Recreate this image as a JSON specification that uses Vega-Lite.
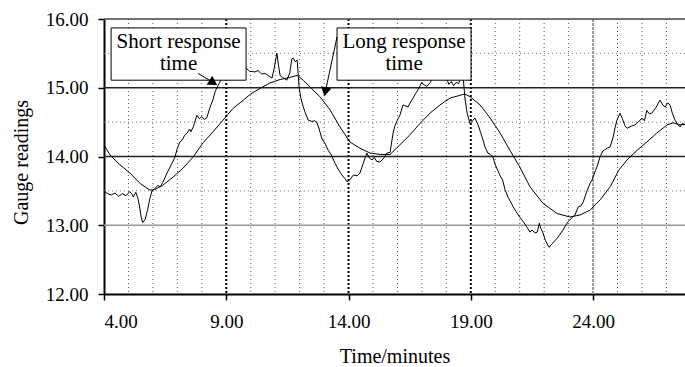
{
  "$schema": "https://vega.github.io/schema/vega-lite/v6.json",
  "width": 581,
  "height": 275,
  "autosize": {"type": "none"},
  "padding": {"left": 104, "top": 19, "right": 0, "bottom": 73},
  "background": "white",
  "config": {
    "font": "Liberation Serif",
    "view": {"stroke": null},
    "axis": {
      "grid": false,
      "labelFont": "Liberation Serif",
      "labelFontSize": 19,
      "labelColor": "black",
      "titleFont": "Liberation Serif",
      "titleFontSize": 20,
      "titleFontWeight": "normal",
      "titleColor": "black",
      "domainColor": "black",
      "domainWidth": 2,
      "tickColor": "black",
      "tickWidth": 1.5,
      "tickSize": 6
    }
  },
  "datasets": {
    "vminor": [{"t":5},{"t":6},{"t":7},{"t":8},{"t":10},{"t":11},{"t":12},{"t":13},{"t":15},{"t":16},{"t":17},{"t":18},{"t":20},{"t":21},{"t":22},{"t":23},{"t":25},{"t":26},{"t":27}],
    "vmajor": [{"t":9},{"t":14},{"t":19}],
    "vmajor2": [{"t":24}],
    "hminor": [{"v":13.5},{"v":14.5},{"v":15.5}],
    "hblack": [{"v":14},{"v":15}],
    "hgray": [{"v":13}],
    "htop": [{"v":16}],
    "boxes": [
      {"t":4.29,"t2":9.81,"v":15.11,"v2":15.87,"tc":7.05,"vc":15.665,"label":"Short response\ntime"},
      {"t":13.53,"t2":19.01,"v":15.11,"v2":15.87,"tc":16.27,"vc":15.665,"label":"Long response\ntime"}
    ],
    "arrow1": [{"t":7.84,"v":15.21,"t2":8.5,"v2":15.07}],
    "arrow1head": [{"t":8.47,"v":15.075}],
    "arrow2": [{"t":13.53,"v":15.74,"t2":13.08,"v2":14.99}],
    "arrow2head": [{"t":13.05,"v":14.94}],
    "series": [
      {"s":"short","t":4.0,"v":13.5},{"s":"short","t":4.15,"v":13.46},{"s":"short","t":4.3,"v":13.44},{"s":"short","t":4.45,"v":13.47},{"s":"short","t":4.6,"v":13.42},{"s":"short","t":4.75,"v":13.46},{"s":"short","t":4.9,"v":13.43},{"s":"short","t":5.05,"v":13.49},{"s":"short","t":5.15,"v":13.45},{"s":"short","t":5.2,"v":13.41},{"s":"short","t":5.3,"v":13.48},{"s":"short","t":5.38,"v":13.4},{"s":"short","t":5.45,"v":13.28},{"s":"short","t":5.52,"v":13.12},{"s":"short","t":5.58,"v":13.04},{"s":"short","t":5.68,"v":13.08},{"s":"short","t":5.78,"v":13.22},{"s":"short","t":5.87,"v":13.38},{"s":"short","t":5.96,"v":13.5},{"s":"short","t":6.05,"v":13.52},{"s":"short","t":6.2,"v":13.58},{"s":"short","t":6.3,"v":13.56},{"s":"short","t":6.4,"v":13.62},{"s":"short","t":6.58,"v":13.76},{"s":"short","t":6.75,"v":13.88},{"s":"short","t":6.9,"v":13.99},{"s":"short","t":7.0,"v":14.12},{"s":"short","t":7.1,"v":14.21},{"s":"short","t":7.2,"v":14.24},{"s":"short","t":7.3,"v":14.31},{"s":"short","t":7.4,"v":14.34},{"s":"short","t":7.5,"v":14.4},{"s":"short","t":7.55,"v":14.36},{"s":"short","t":7.65,"v":14.43},{"s":"short","t":7.8,"v":14.6},{"s":"short","t":7.9,"v":14.55},{"s":"short","t":8.0,"v":14.58},{"s":"short","t":8.1,"v":14.54},{"s":"short","t":8.2,"v":14.56},{"s":"short","t":8.34,"v":14.72},{"s":"short","t":8.45,"v":14.82},{"s":"short","t":8.54,"v":14.94},{"s":"short","t":8.67,"v":15.04},{"s":"short","t":8.8,"v":15.12},{"s":"short","t":9.0,"v":15.2},{"s":"short","t":9.3,"v":15.25},{"s":"short","t":9.6,"v":15.27},{"s":"short","t":9.8,"v":15.29},{"s":"short","t":9.95,"v":15.24},{"s":"short","t":10.17,"v":15.23},{"s":"short","t":10.3,"v":15.25},{"s":"short","t":10.45,"v":15.2},{"s":"short","t":10.58,"v":15.21},{"s":"short","t":10.75,"v":15.17},{"s":"short","t":10.87,"v":15.14},{"s":"short","t":10.97,"v":15.3},{"s":"short","t":11.07,"v":15.5},{"s":"short","t":11.14,"v":15.32},{"s":"short","t":11.2,"v":15.18},{"s":"short","t":11.3,"v":15.15},{"s":"short","t":11.48,"v":15.11},{"s":"short","t":11.6,"v":15.22},{"s":"short","t":11.68,"v":15.42},{"s":"short","t":11.74,"v":15.43},{"s":"short","t":11.82,"v":15.38},{"s":"short","t":11.9,"v":15.4},{"s":"short","t":11.98,"v":15.0},{"s":"short","t":12.05,"v":14.85},{"s":"short","t":12.15,"v":14.72},{"s":"short","t":12.25,"v":14.62},{"s":"short","t":12.35,"v":14.53},{"s":"short","t":12.5,"v":14.51},{"s":"short","t":12.6,"v":14.52},{"s":"short","t":12.7,"v":14.5},{"s":"short","t":12.8,"v":14.4},{"s":"short","t":12.9,"v":14.27},{"s":"short","t":13.05,"v":14.18},{"s":"short","t":13.17,"v":14.09},{"s":"short","t":13.3,"v":14.02},{"s":"short","t":13.45,"v":13.9},{"s":"short","t":13.6,"v":13.8},{"s":"short","t":13.73,"v":13.73},{"s":"short","t":13.85,"v":13.68},{"s":"short","t":13.94,"v":13.63},{"s":"short","t":14.05,"v":13.66},{"s":"short","t":14.2,"v":13.73},{"s":"short","t":14.35,"v":13.72},{"s":"short","t":14.47,"v":13.76},{"s":"short","t":14.6,"v":13.9},{"s":"short","t":14.75,"v":14.05},{"s":"short","t":14.85,"v":13.98},{"s":"short","t":14.96,"v":13.95},{"s":"short","t":15.05,"v":13.99},{"s":"short","t":15.15,"v":13.93},{"s":"short","t":15.29,"v":13.92},{"s":"short","t":15.45,"v":13.98},{"s":"short","t":15.57,"v":14.05},{"s":"short","t":15.7,"v":14.06},{"s":"short","t":15.82,"v":14.34},{"s":"short","t":15.9,"v":14.45},{"s":"short","t":16.0,"v":14.53},{"s":"short","t":16.1,"v":14.6},{"s":"short","t":16.23,"v":14.75},{"s":"short","t":16.3,"v":14.74},{"s":"short","t":16.43,"v":14.72},{"s":"short","t":16.55,"v":14.8},{"s":"short","t":16.64,"v":14.85},{"s":"short","t":16.75,"v":14.92},{"s":"short","t":16.84,"v":14.97},{"s":"short","t":17.0,"v":15.08},{"s":"short","t":17.05,"v":15.05},{"s":"short","t":17.2,"v":15.02},{"s":"short","t":17.35,"v":15.08},{"s":"short","t":17.5,"v":15.2},{"s":"short","t":17.8,"v":15.22},{"s":"short","t":18.0,"v":15.15},{"s":"short","t":18.1,"v":15.05},{"s":"short","t":18.2,"v":15.09},{"s":"short","t":18.3,"v":15.03},{"s":"short","t":18.4,"v":15.08},{"s":"short","t":18.5,"v":15.06},{"s":"short","t":18.6,"v":15.15},{"s":"short","t":18.7,"v":15.1},{"s":"short","t":18.76,"v":14.85},{"s":"short","t":18.85,"v":14.63},{"s":"short","t":18.97,"v":14.48},{"s":"short","t":19.07,"v":14.52},{"s":"short","t":19.17,"v":14.56},{"s":"short","t":19.3,"v":14.46},{"s":"short","t":19.4,"v":14.35},{"s":"short","t":19.5,"v":14.24},{"s":"short","t":19.6,"v":14.12},{"s":"short","t":19.7,"v":14.05},{"s":"short","t":19.8,"v":14.03},{"s":"short","t":19.9,"v":14.0},{"s":"short","t":20.0,"v":13.88},{"s":"short","t":20.1,"v":13.8},{"s":"short","t":20.2,"v":13.72},{"s":"short","t":20.3,"v":13.66},{"s":"short","t":20.4,"v":13.52},{"s":"short","t":20.52,"v":13.41},{"s":"short","t":20.63,"v":13.34},{"s":"short","t":20.73,"v":13.27},{"s":"short","t":20.85,"v":13.2},{"s":"short","t":21.0,"v":13.12},{"s":"short","t":21.15,"v":13.05},{"s":"short","t":21.3,"v":12.97},{"s":"short","t":21.42,"v":12.9},{"s":"short","t":21.5,"v":12.93},{"s":"short","t":21.63,"v":12.89},{"s":"short","t":21.72,"v":12.9},{"s":"short","t":21.8,"v":13.03},{"s":"short","t":21.87,"v":12.95},{"s":"short","t":21.95,"v":12.89},{"s":"short","t":22.05,"v":12.78},{"s":"short","t":22.2,"v":12.68},{"s":"short","t":22.3,"v":12.72},{"s":"short","t":22.4,"v":12.76},{"s":"short","t":22.53,"v":12.81},{"s":"short","t":22.65,"v":12.87},{"s":"short","t":22.77,"v":12.93},{"s":"short","t":22.88,"v":13.0},{"s":"short","t":22.98,"v":13.05},{"s":"short","t":23.1,"v":13.1},{"s":"short","t":23.26,"v":13.15},{"s":"short","t":23.4,"v":13.27},{"s":"short","t":23.5,"v":13.28},{"s":"short","t":23.6,"v":13.34},{"s":"short","t":23.75,"v":13.5},{"s":"short","t":23.88,"v":13.61},{"s":"short","t":23.96,"v":13.66},{"s":"short","t":24.1,"v":13.8},{"s":"short","t":24.16,"v":13.85},{"s":"short","t":24.29,"v":14.0},{"s":"short","t":24.4,"v":14.08},{"s":"short","t":24.57,"v":14.12},{"s":"short","t":24.7,"v":14.14},{"s":"short","t":24.82,"v":14.28},{"s":"short","t":24.9,"v":14.42},{"s":"short","t":24.98,"v":14.53},{"s":"short","t":25.1,"v":14.63},{"s":"short","t":25.2,"v":14.55},{"s":"short","t":25.3,"v":14.45},{"s":"short","t":25.39,"v":14.41},{"s":"short","t":25.55,"v":14.44},{"s":"short","t":25.72,"v":14.46},{"s":"short","t":25.85,"v":14.5},{"s":"short","t":26.0,"v":14.56},{"s":"short","t":26.1,"v":14.52},{"s":"short","t":26.2,"v":14.67},{"s":"short","t":26.3,"v":14.62},{"s":"short","t":26.4,"v":14.63},{"s":"short","t":26.55,"v":14.7},{"s":"short","t":26.74,"v":14.82},{"s":"short","t":26.85,"v":14.75},{"s":"short","t":26.95,"v":14.72},{"s":"short","t":27.05,"v":14.78},{"s":"short","t":27.15,"v":14.75},{"s":"short","t":27.25,"v":14.62},{"s":"short","t":27.35,"v":14.53},{"s":"short","t":27.45,"v":14.47},{"s":"short","t":27.56,"v":14.43},{"s":"short","t":27.65,"v":14.48},{"s":"short","t":27.76,"v":14.46},
      {"s":"long","t":4.0,"v":14.17},{"s":"long","t":4.25,"v":14.02},{"s":"long","t":4.65,"v":13.88},{"s":"long","t":5.06,"v":13.76},{"s":"long","t":5.47,"v":13.61},{"s":"long","t":5.88,"v":13.51},{"s":"long","t":6.08,"v":13.52},{"s":"long","t":6.4,"v":13.58},{"s":"long","t":6.82,"v":13.7},{"s":"long","t":7.23,"v":13.83},{"s":"long","t":7.64,"v":13.99},{"s":"long","t":8.05,"v":14.2},{"s":"long","t":8.46,"v":14.36},{"s":"long","t":8.87,"v":14.53},{"s":"long","t":9.28,"v":14.7},{"s":"long","t":9.7,"v":14.82},{"s":"long","t":10.0,"v":14.91},{"s":"long","t":10.38,"v":14.99},{"s":"long","t":10.79,"v":15.07},{"s":"long","t":11.2,"v":15.12},{"s":"long","t":11.6,"v":15.15},{"s":"long","t":11.9,"v":15.18},{"s":"long","t":12.15,"v":15.11},{"s":"long","t":12.43,"v":15.01},{"s":"long","t":12.83,"v":14.87},{"s":"long","t":13.24,"v":14.68},{"s":"long","t":13.65,"v":14.43},{"s":"long","t":14.06,"v":14.21},{"s":"long","t":14.47,"v":14.12},{"s":"long","t":14.88,"v":14.05},{"s":"long","t":15.29,"v":14.03},{"s":"long","t":15.7,"v":14.03},{"s":"long","t":16.1,"v":14.17},{"s":"long","t":16.5,"v":14.31},{"s":"long","t":16.92,"v":14.48},{"s":"long","t":17.33,"v":14.63},{"s":"long","t":17.74,"v":14.75},{"s":"long","t":18.15,"v":14.85},{"s":"long","t":18.56,"v":14.89},{"s":"long","t":18.75,"v":14.91},{"s":"long","t":18.97,"v":14.87},{"s":"long","t":19.38,"v":14.75},{"s":"long","t":19.79,"v":14.56},{"s":"long","t":20.2,"v":14.34},{"s":"long","t":20.6,"v":14.09},{"s":"long","t":21.0,"v":13.85},{"s":"long","t":21.42,"v":13.56},{"s":"long","t":21.95,"v":13.32},{"s":"long","t":22.53,"v":13.17},{"s":"long","t":23.06,"v":13.12},{"s":"long","t":23.47,"v":13.15},{"s":"long","t":23.88,"v":13.22},{"s":"long","t":24.29,"v":13.37},{"s":"long","t":24.7,"v":13.56},{"s":"long","t":25.05,"v":13.8},{"s":"long","t":25.39,"v":13.95},{"s":"long","t":25.8,"v":14.09},{"s":"long","t":26.2,"v":14.21},{"s":"long","t":26.6,"v":14.34},{"s":"long","t":27.03,"v":14.46},{"s":"long","t":27.27,"v":14.49},{"s":"long","t":27.56,"v":14.46},{"s":"long","t":27.76,"v":14.47}
    ]
  },
  "layer": [
    {
      "data": {"name": "vminor"},
      "mark": {"type": "rule", "stroke": "#555", "strokeWidth": 1, "strokeDash": [1, 3]},
      "encoding": {
        "x": {"field": "t", "type": "quantitative",
              "scale": {"domain": [4, 27.76], "nice": false, "zero": false},
              "axis": {"values": [4, 9, 14, 19, 24], "format": ".2f", "title": "Time/minutes", "labelPadding": 12, "titlePadding": 15}}
      }
    },
    {
      "data": {"name": "hminor"},
      "mark": {"type": "rule", "stroke": "#777", "strokeWidth": 1, "strokeDash": [1, 3]},
      "encoding": {
        "y": {"field": "v", "type": "quantitative",
              "scale": {"domain": [12, 16], "nice": false, "zero": false},
              "axis": {"values": [12, 13, 14, 15, 16], "format": ".2f", "title": "Gauge readings", "labelPadding": 10, "titlePadding": 14, "titleY": 143}}
      }
    },
    {
      "data": {"name": "vmajor"},
      "mark": {"type": "rule", "stroke": "#000", "strokeWidth": 2, "strokeDash": [2, 2]},
      "encoding": {"x": {"field": "t", "type": "quantitative"}}
    },
    {
      "data": {"name": "vmajor2"},
      "mark": {"type": "rule", "stroke": "#999", "strokeWidth": 2, "strokeDash": [3, 1]},
      "encoding": {"x": {"field": "t", "type": "quantitative"}}
    },
    {
      "data": {"name": "hgray"},
      "mark": {"type": "rule", "stroke": "#999", "strokeWidth": 1.5},
      "encoding": {"y": {"field": "v", "type": "quantitative"}}
    },
    {
      "data": {"name": "hblack"},
      "mark": {"type": "rule", "stroke": "#222", "strokeWidth": 1.5},
      "encoding": {"y": {"field": "v", "type": "quantitative"}}
    },
    {
      "data": {"name": "htop"},
      "mark": {"type": "rule", "stroke": "#444", "strokeWidth": 1.5},
      "encoding": {"y": {"field": "v", "type": "quantitative"}}
    },
    {
      "data": {"name": "series"},
      "mark": {"type": "line", "stroke": "black", "strokeWidth": 1},
      "encoding": {
        "x": {"field": "t", "type": "quantitative"},
        "y": {"field": "v", "type": "quantitative"},
        "detail": {"field": "s"}
      }
    },
    {
      "data": {"name": "boxes"},
      "mark": {"type": "rect", "fill": "white", "stroke": "black", "strokeWidth": 1},
      "encoding": {
        "x": {"field": "t", "type": "quantitative"},
        "x2": {"field": "t2"},
        "y": {"field": "v", "type": "quantitative"},
        "y2": {"field": "v2"}
      }
    },
    {
      "data": {"name": "boxes"},
      "mark": {"type": "text", "font": "Liberation Serif", "fontSize": 21, "color": "black", "align": "center", "baseline": "middle", "lineBreak": "\n", "lineHeight": 22},
      "encoding": {
        "x": {"field": "tc", "type": "quantitative"},
        "y": {"field": "vc", "type": "quantitative"},
        "text": {"field": "label"}
      }
    },
    {
      "data": {"name": "arrow1"},
      "mark": {"type": "rule", "stroke": "black", "strokeWidth": 1},
      "encoding": {
        "x": {"field": "t", "type": "quantitative"},
        "x2": {"field": "t2"},
        "y": {"field": "v", "type": "quantitative"},
        "y2": {"field": "v2"}
      }
    },
    {
      "data": {"name": "arrow2"},
      "mark": {"type": "rule", "stroke": "black", "strokeWidth": 1},
      "encoding": {
        "x": {"field": "t", "type": "quantitative"},
        "x2": {"field": "t2"},
        "y": {"field": "v", "type": "quantitative"},
        "y2": {"field": "v2"}
      }
    },
    {
      "data": {"name": "arrow1head"},
      "mark": {"type": "point", "shape": "triangle-up", "filled": true, "color": "black", "size": 110, "angle": 122, "opacity": 1},
      "encoding": {
        "x": {"field": "t", "type": "quantitative"},
        "y": {"field": "v", "type": "quantitative"}
      }
    },
    {
      "data": {"name": "arrow2head"},
      "mark": {"type": "point", "shape": "triangle-up", "filled": true, "color": "black", "size": 110, "angle": 192, "opacity": 1},
      "encoding": {
        "x": {"field": "t", "type": "quantitative"},
        "y": {"field": "v", "type": "quantitative"}
      }
    }
  ]
}
